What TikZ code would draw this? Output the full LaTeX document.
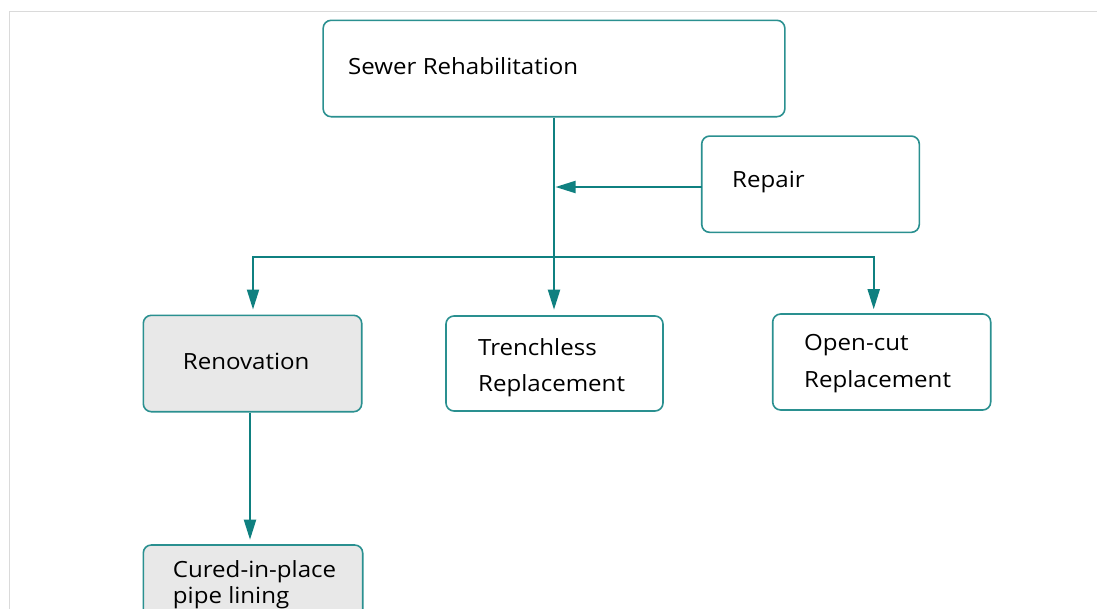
\documentclass[tikz,border=0pt]{standalone}
\usepackage{fontspec}
\setmainfont[FakeStretch=1.08]{Open Sans}
\usetikzlibrary{arrows.meta}
\definecolor{tealbox}{HTML}{2A9090}
\definecolor{tealline}{HTML}{0F8080}
\definecolor{boxgray}{HTML}{E8E8E8}
\definecolor{frame}{HTML}{DADADA}
\tikzset{
  box/.style={draw=tealbox, line width=1.6pt, rounded corners=8pt, rectangle, inner sep=0pt, fill=white},
  graybox/.style={box, fill=boxgray},
  lbl/.style={font=\fontsize{22.3}{26}\selectfont, text=black, inner sep=0pt, anchor=base west},
  arr/.style={draw=tealline, line width=2pt, -{Triangle[length=20pt,width=12pt]}},
}
\begin{document}
\begin{tikzpicture}[x=1pt,y=-1pt]
\clip (0,0) rectangle (1097,608);
\fill[white] (0,0) rectangle (1097,608);
\draw[frame, line width=1.5pt] (9.5,610) -- (9.5,11.5) -- (1100,11.5);

\node[box, minimum width=461.7pt, minimum height=96.4pt] (sewer) at (554,68.5) {};
\node[box, minimum width=217.6pt, minimum height=96.3pt] (repair) at (810.5,184.2) {};
\node[graybox, minimum width=218.4pt, minimum height=96.4pt] (renov) at (252.5,363.5) {};
\node[box, minimum width=217pt, minimum height=95pt] (trench) at (554.5,363.5) {};
\node[box, minimum width=218pt, minimum height=96pt] (opencut) at (881.7,362) {};
\node[graybox, minimum width=219.4pt, minimum height=96pt] (cured) at (253,593) {};

\node[lbl] (tsewer) at (348,74) {Sewer Rehabilitation};
\node[lbl] (trepair) at (732,187.7) {Repair};
\node[lbl] (trenov) at (182.7,369) {Renovation};
\node[lbl] (ttrench1) at (478,355) {Trenchless};
\node[lbl] (ttrench2) at (478,391.7) {Replacement};
\node[lbl] (topen1) at (804,350.7) {Open-cut};
\node[lbl] (topen2) at (804,387) {Replacement};
\node[lbl] (tcured1) at (172.7,577) {Cured-in-place};
\node[lbl] (tcured2) at (172.7,603) {pipe lining};

\coordinate (rout) at (701.7,187);
\coordinate (rin) at (554,187);
\coordinate (br) at (554,257);

\draw[arr, shorten >=1.5pt] (rout) -- (rin);
\draw[arr, shorten >=5.5pt] (sewer.south) -- (sewer.south |- trench.north);
\draw[arr, shorten >=5pt] (br) -| ([xshift=0.5pt]renov.north);
\draw[arr, shorten >=4pt] (br) -| ([xshift=-8pt]opencut.north);
\draw[arr, shorten >=4.5pt] ([xshift=-2.5pt]renov.south) -- ([xshift=-2.5pt]renov.south |- cured.north);
\end{tikzpicture}
\end{document}
